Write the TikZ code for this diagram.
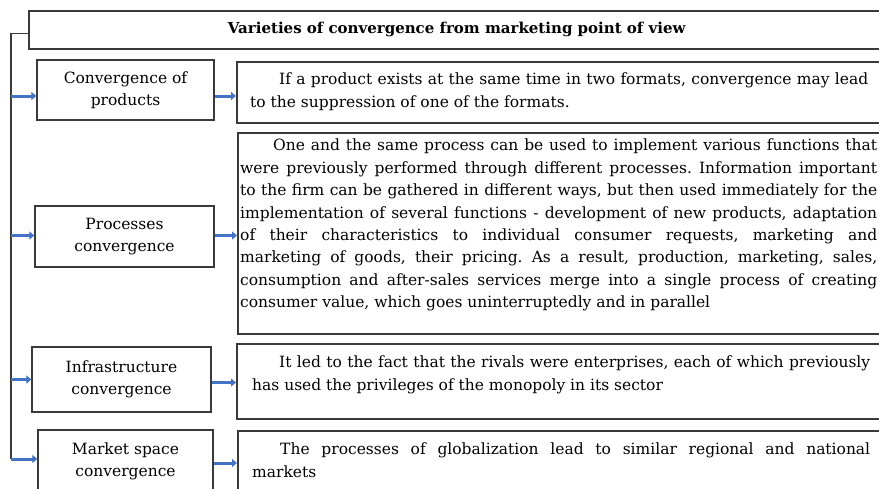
\documentclass[tikz,border=0pt]{standalone}
\usepackage{fontspec}
\setmainfont{DejaVu Serif}
\usetikzlibrary{arrows.meta,positioning}
\definecolor{ConvLine}{HTML}{3A3A3A}
\definecolor{ConvBlue}{HTML}{4472C4}
\frenchspacing
\tikzset{
  kind/.style={draw=ConvLine,line width=1.3pt,align=center,inner sep=0pt,
    font=\fontsize{15.5}{22}\selectfont},
  head/.style={kind,line width=1.5pt,anchor=north west,minimum width=856pt,minimum height=38pt,
    font=\bfseries\fontsize{15}{17}\selectfont},
  note/.style={draw=ConvLine,line width=1.5pt,anchor=north west,inner sep=0pt,
    minimum width=648pt},
  notetext/.style={anchor=north west,inner sep=0pt,align=justify,text width=618pt,
    font=\fontsize{15.5}{22.4}\selectfont},
  link/.style={-{Triangle[length=5pt,width=8pt]},line width=3pt,draw=ConvBlue},
  trunk/.style={draw=ConvLine,line width=1.3pt}
}

\begin{document}
\begin{tikzpicture}[x=1pt,y=-1pt]
  \useasboundingbox (0,0) rectangle (879,488);
  \clip (0,0) rectangle (879,488);
  \node[head] (title) at (28,10) {Varieties of convergence from marketing point of view};
  % kinds of convergence
  \node[kind,minimum width=177pt,minimum height=60pt] (prod) at (125.5,90) {Convergence of\\products};
  \node[kind,minimum width=179pt,minimum height=61pt] (proc) at (124.5,236.5) {Processes\\convergence};
  \node[kind,minimum width=179pt,minimum height=65pt] (infra) at (121.5,379.5) {Infrastructure\\convergence};
  \node[kind,minimum width=175pt,minimum height=62pt] (market) at (125.5,461) {Market space\\convergence};
  % descriptions
  \node[note,minimum height=61pt] (dprod) at (236,61) {};
  \node[note,minimum height=201pt] (dproc) at (237,132) {};
  \node[note,minimum height=75pt] (dinfra) at (236,343) {};
  \node[note,minimum height=70pt] (dmarket) at (237,430) {};
  \node[notetext] (tprod) at ([shift={(14,12)}]dprod.north west)
    {\hspace*{29pt}If a product exists at the same time in two formats, convergence may lead\linebreak
     to the suppression of one of the formats.};
  \node[notetext,text width=637pt] (tproc) at ([shift={(3,7)}]dproc.north west)
    {\hspace*{33pt}One and the same process can be used to implement various functions that\linebreak
     were previously performed through different processes. Information important\linebreak
     to the firm can be gathered in different ways, but then used immediately for the\linebreak
     implementation of several functions - development of new products, adaptation\linebreak
     of their characteristics to individual consumer requests, marketing and\linebreak
     marketing of goods, their pricing. As a result, production, marketing, sales,\linebreak
     consumption and after-sales services merge into a single process of creating\linebreak
     consumer value, which goes uninterruptedly and in parallel};
  \node[notetext] (tinfra) at ([shift={(16,13)}]dinfra.north west)
    {\hspace*{27pt}It led to the fact that the rivals were enterprises, each of which previously\linebreak
     has used the privileges of the monopoly in its sector};
  \node[notetext] (tmarket) at ([shift={(15,13)}]dmarket.north west)
    {\hspace*{28pt}The processes of globalization lead to similar regional and national\linebreak
     markets};
  % trunk and arrows
  \coordinate (bottom) at (11,459);
  \draw[trunk] ([yshift=-4pt]title.west) -| (bottom);
  \draw[link] ([yshift=-6pt]prod.west -| bottom) -- ([yshift=-6pt]prod.west);
  \draw[link] ([yshift=1pt]proc.west -| bottom) -- ([yshift=1pt]proc.west);
  \draw[link] (infra.west -| bottom) -- (infra.west);
  \draw[link] ([yshift=2pt]market.west -| bottom) -- ([yshift=2pt]market.west);
  \draw[link] ([yshift=-6pt]prod.east) -- ([yshift=-6pt]prod.east -| dprod.west);
  \draw[link] ([yshift=1pt]proc.east) -- ([yshift=1pt]proc.east -| dproc.west);
  \draw[link] ([yshift=-3pt]infra.east) -- ([yshift=-3pt]infra.east -| dinfra.west);
  \draw[link] ([yshift=-2pt]market.east) -- ([yshift=-2pt]market.east -| dmarket.west);
\end{tikzpicture}
\end{document}
